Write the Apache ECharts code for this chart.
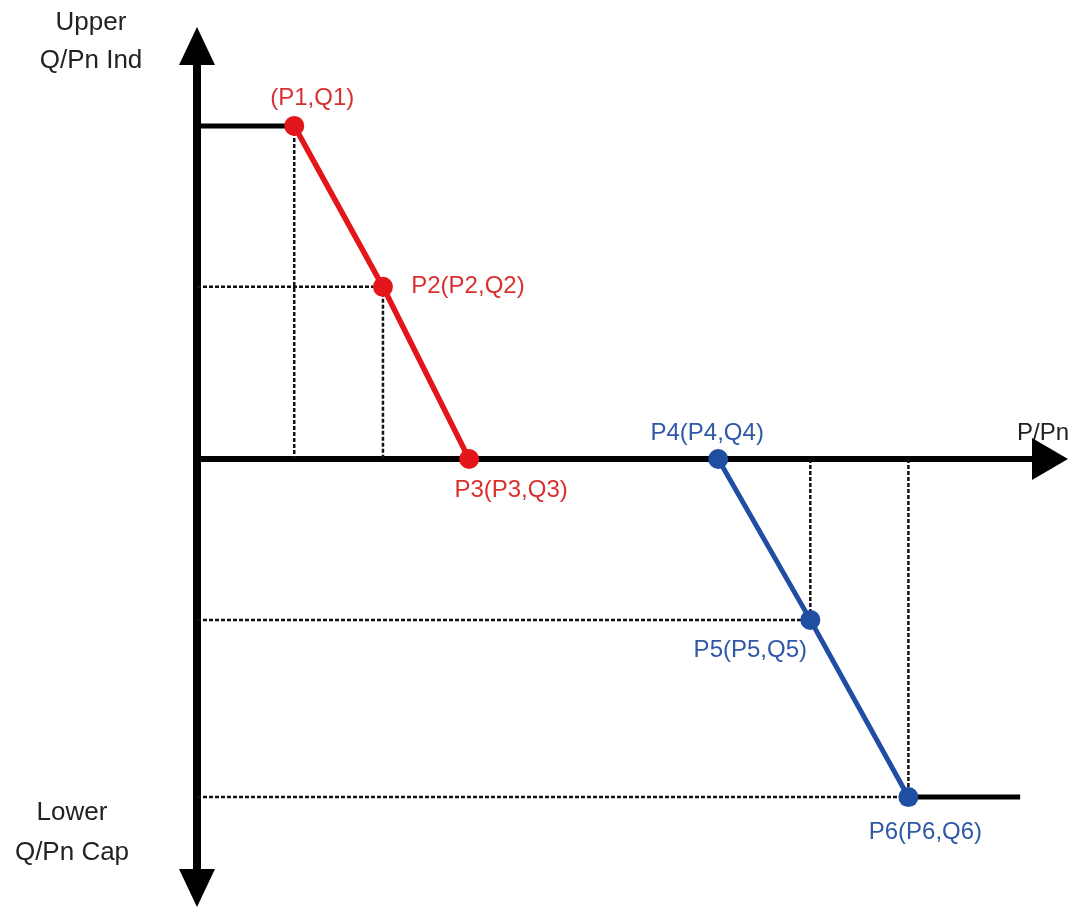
<!DOCTYPE html>
<html><head><meta charset="utf-8">
<script src="https://cdn.jsdelivr.net/npm/echarts@6/dist/echarts.min.js"></script>
<style>html,body{margin:0;padding:0;background:#fff}#c{width:1069px;height:909px}</style>
</head><body><div id="c"></div>
<script>
// Characteristic points (P/Pn on x, Q/Pn on y)
const pointNames = ['(P1,Q1)', 'P2(P2,Q2)', 'P3(P3,Q3)', 'P4(P4,Q4)', 'P5(P5,Q5)', 'P6(P6,Q6)'];
const pValues = [11.4, 21.8, 31.9, 61.1, 71.9, 83.4];
const qValues = [1.0, 0.517, 0, 0, -0.483, -1.015];
const pLineEnd = 96.5;   // end of the lower flat limit line
const axisTexts = { upper: 'Upper\nQ/Pn Ind', lower: 'Lower\nQ/Pn Cap', x: 'P/Pn' };

const RED = '#e3161c', RED_TXT = '#d8302f';
const BLUE = '#1f4ea3', BLUE_TXT = '#2f58a6';
const FONT = '"Liberation Sans", Arial, sans-serif';

const pt = i => [pValues[i], qValues[i]];
const dotted = { color: '#111', width: 2.5, type: [4, 2] };

function lineSeries(data, style, z) {
  return { type: 'line', data, symbol: 'none', silent: true, lineStyle: style, z: z || 2, animation: false };
}

const labelOffsets = [[18, -28], [85, 0], [42, 31], [-11, -26], [-60, 30], [17, 35]];

const series = [
  // dotted guide lines
  lineSeries([[pValues[0], qValues[0]], [pValues[0], 0]], dotted, 1),
  lineSeries([[0, qValues[1]], [pValues[1], qValues[1]]], dotted, 1),
  lineSeries([[pValues[1], qValues[1]], [pValues[1], 0]], dotted, 1),
  lineSeries([[0, qValues[4]], [pValues[4], qValues[4]]], dotted, 1),
  lineSeries([[pValues[4], 0], [pValues[4], qValues[4]]], dotted, 1),
  lineSeries([[0, qValues[5]], [pValues[5], qValues[5]]], dotted, 1),
  lineSeries([[pValues[5], 0], [pValues[5], qValues[5]]], dotted, 1),
  // black limit lines
  lineSeries([[0, qValues[0]], pt(0)], { color: '#000', width: 5 }, 2),
  lineSeries([pt(5), [pLineEnd, qValues[5]]], { color: '#000', width: 5 }, 2),
  // red and blue curves
  lineSeries([pt(0), pt(1), pt(2)], { color: RED, width: 5.5 }, 3),
  lineSeries([pt(3), pt(4), pt(5)], { color: BLUE, width: 5 }, 3),
  // points with labels
  {
    type: 'scatter', z: 5, animation: false, symbolSize: 20,
    data: pointNames.map((n, i) => ({
      name: n, value: pt(i),
      itemStyle: { color: i < 3 ? RED : BLUE, opacity: 1 },
      label: {
        show: true, formatter: n, position: 'inside', offset: labelOffsets[i],
        color: i < 3 ? RED_TXT : BLUE_TXT, fontSize: 24, fontFamily: FONT
      }
    }))
  }
];

const chart = echarts.init(document.getElementById('c'), null, { renderer: 'canvas' });
chart.setOption({
  animation: false,
  backgroundColor: '#fff',
  grid: { left: 197, right: 19, top: 46, bottom: 21, containLabel: false, outerBoundsMode: 'none' },
  xAxis: {
    type: 'value', min: 0, max: 100,
    axisLine: { onZero: true, symbol: ['none', 'triangle'], symbolSize: [42, 36], lineStyle: { color: '#000', width: 6 } },
    axisTick: { show: false }, axisLabel: { show: false }, splitLine: { show: false },
    name: axisTexts.x, nameLocation: 'end', nameGap: 0,
    nameTextStyle: { fontSize: 24, fontFamily: FONT, color: '#222', align: 'right', verticalAlign: 'bottom', padding: [0, -19, 14, 0] }
  },
  yAxis: {
    type: 'value', min: -1.288, max: 1.240,
    axisLine: { onZero: true, symbol: ['triangle', 'triangle'], symbolSize: [36, 38], lineStyle: { color: '#000', width: 8 } },
    axisTick: { show: false }, axisLabel: { show: false }, splitLine: { show: false }
  },
  graphic: [
    { type: 'text', x: 91, y: 42, style: { text: axisTexts.upper, font: '26px ' + FONT, fill: '#222', textAlign: 'center', textVerticalAlign: 'middle', lineHeight: 38 } },
    { type: 'text', x: 72, y: 833, style: { text: axisTexts.lower, font: '26px ' + FONT, fill: '#222', textAlign: 'center', textVerticalAlign: 'middle', lineHeight: 40 } }
  ],
  series
});
</script>
</body></html>
